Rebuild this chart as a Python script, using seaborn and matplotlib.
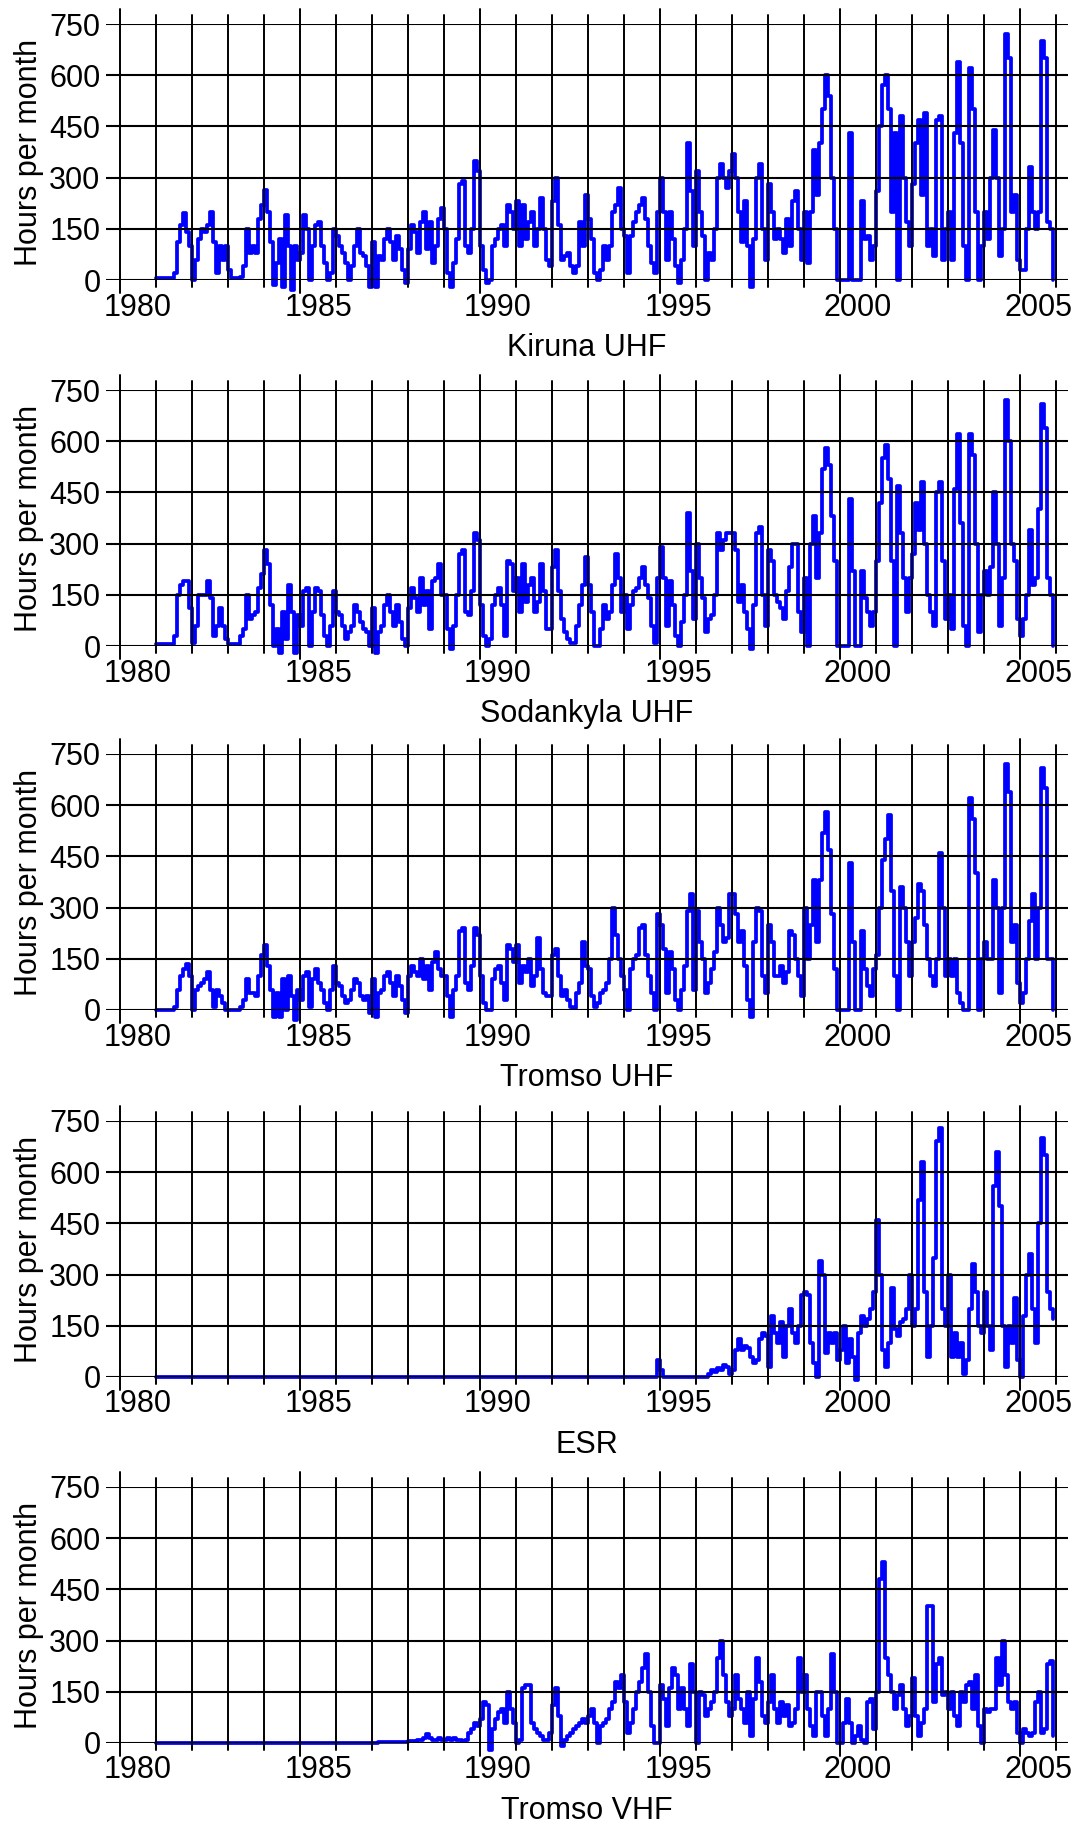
import numpy as np
import pandas as pd
import matplotlib
matplotlib.use("Agg")
import matplotlib.pyplot as plt
import seaborn as sns

sns.set_theme(style="white")
plt.rcParams["font.family"] = ["Liberation Sans", "DejaVu Sans"]

# --- data: hours per month, one row per year, Jan..Dec, 1981..2005 ---
first_year = 1981

kiruna_uhf = [
    5, 5, 5, 5, 5, 5, 20, 110, 160, 195, 140, 100,          # 1981
    0, 60, 120, 150, 140, 160, 200, 110, 20, 100, 60, 100,  # 1982
    30, 5, 5, 5, 10, 40, 150, 80, 100, 80, 180, 220,        # 1983
    265, 200, 110, -15, 50, 120, -20, 190, 100, -30, 100, 60,  # 1984
    80, 190, 150, 0, 100, 160, 170, 100, 50, 0, 20, 150,    # 1985
    130, 100, 80, 50, 0, 40, 100, 150, 80, 70, 40, -20,     # 1986
    110, -20, 70, 60, 120, 150, 110, 60, 130, 90, 30, -10,  # 1987
    90, 160, 140, 80, 170, 200, 90, 170, 50, 100, 180, 210,  # 1988
    150, 20, -20, 50, 120, 280, 290, 100, 80, 150, 350, 320,  # 1989
    100, 30, -10, 0, 100, 120, 150, 160, 100, 220, 200, 150,  # 1990
    230, 100, 220, 120, 170, 200, 100, 150, 240, 150, 60, 40,  # 1991
    230, 300, 160, 60, 70, 80, 40, 20, 40, 170, 100, 250,   # 1992
    180, 120, 20, 0, 30, 100, 60, 100, 200, 220, 270, 150,  # 1993
    130, 20, 130, 170, 200, 220, 240, 180, 100, 50, 20, 200,  # 1994
    300, 200, 60, 200, 120, 40, -10, 60, 150, 400, 260, 100,  # 1995
    320, 200, 130, 0, 80, 60, 150, 300, 340, 300, 270, 320,  # 1996
    370, 300, 200, 110, 230, 100, -20, 120, 300, 340, 150, 60,  # 1997
    280, 200, 120, 150, 120, 80, 180, 100, 230, 260, 150, 60,  # 1998
    200, 50, 200, 380, 250, 400, 500, 600, 540, 300, 150, 0,  # 1999
    0, 0, 0, 430, 0, 0, 0, 230, 120, 130, 60, 100,          # 2000
    260, 450, 570, 600, 500, 200, 430, 0, 480, 300, 170, 100,  # 2001
    280, 400, 470, 250, 490, 100, 150, 70, 470, 480, 60, 150,  # 2002
    200, 60, 430, 640, 400, 100, 0, 620, 500, 200, 0, 100,  # 2003
    200, 120, 300, 440, 300, 70, 150, 720, 650, 200, 250, 60,  # 2004
    30, 30, 150, 330, 200, 150, 200, 700, 650, 170, 150, 0,  # 2005
]

sodankyla_uhf = [
    5, 5, 5, 5, 5, 5, 30, 150, 180, 190, 190, 110,          # 1981
    10, 60, 150, 150, 150, 190, 140, 30, 60, 110, 60, 20,   # 1982
    5, 5, 5, 5, 30, 50, 150, 80, 90, 100, 170, 210,         # 1983
    280, 240, 120, 0, 50, -20, 100, 20, 180, 100, -20, 90,  # 1984
    60, 160, 170, 0, 100, 170, 160, 90, 30, 0, 60, 160,     # 1985
    100, 90, 60, 20, 40, 60, 120, 100, 70, 50, 40, 0,       # 1986
    110, -20, 40, 60, 120, 150, 100, 60, 120, 70, 20, 0,    # 1987
    110, 170, 140, 100, 200, 120, 160, 50, 190, 200, 240, 150,  # 1988
    150, 50, -10, 60, 150, 270, 280, 100, 90, 160, 330, 310,  # 1989
    120, 30, 0, 20, 120, 150, 170, 120, 30, 250, 240, 160,  # 1990
    200, 100, 240, 130, 180, 200, 100, 130, 240, 160, 50, 50,  # 1991
    230, 280, 160, 80, 40, 20, 10, 10, 60, 120, 180, 260,   # 1992
    180, 100, 0, 0, 50, 120, 80, 100, 180, 270, 200, 100,   # 1993
    150, 50, 120, 160, 170, 200, 230, 180, 140, 60, 10, 200,  # 1994
    290, 200, 60, 190, 120, 30, 0, 70, 150, 390, 220, 80,   # 1995
    300, 200, 140, 40, 80, 90, 150, 330, 280, 310, 330, 330,  # 1996
    330, 280, 130, 180, 100, 50, -10, 120, 330, 350, 150, 60,  # 1997
    280, 250, 150, 130, 110, 80, 160, 230, 300, 300, 100, 40,  # 1998
    200, 0, 300, 380, 200, 330, 520, 580, 530, 380, 250, 0,  # 1999
    0, 0, 0, 430, 220, 0, 0, 220, 140, 100, 60, 100,        # 2000
    250, 420, 550, 590, 490, 250, 0, 470, 330, 200, 100, 200,  # 2001
    270, 420, 340, 480, 300, 150, 100, 60, 450, 480, 250, 80,  # 2002
    150, 50, 460, 620, 360, 60, 0, 620, 560, 300, 40, 150,  # 2003
    220, 150, 230, 450, 300, 60, 200, 720, 600, 300, 250, 80,  # 2004
    30, 80, 150, 340, 180, 200, 400, 710, 640, 200, 150, 0,  # 2005
]

tromso_uhf = [
    0, 0, 0, 0, 0, 0, 10, 60, 100, 120, 135, 100,           # 1981
    0, 60, 70, 80, 90, 110, 60, 10, 60, 40, 20, 0,          # 1982
    0, 0, 0, 0, 10, 30, 90, 50, 50, 40, 100, 160,           # 1983
    190, 130, 60, -20, 50, -20, 90, 0, 100, 40, -30, 60,    # 1984
    30, 100, 110, 10, 90, 120, 80, 60, 20, 0, 60, 130,      # 1985
    80, 70, 40, 20, 30, 60, 90, 80, 40, 30, 40, -10,        # 1986
    90, -20, 50, 60, 100, 110, 80, 40, 100, 70, 30, -10,    # 1987
    100, 130, 110, 100, 150, 90, 130, 60, 140, 170, 120, 100,  # 1988
    100, 40, -20, 60, 100, 230, 240, 80, 60, 130, 240, 220,  # 1989
    100, 20, 0, 0, 90, 120, 130, 80, 30, 190, 180, 140,     # 1990
    190, 80, 130, 110, 150, 70, 100, 210, 120, 50, 40, 40,  # 1991
    160, 180, 100, 40, 60, 30, 10, 5, 50, 80, 200, 130,     # 1992
    120, 40, 10, 20, 50, 60, 80, 150, 300, 220, 150, 100,   # 1993
    60, 0, 120, 150, 160, 240, 250, 160, 100, 50, 0, 280,   # 1994
    250, 180, 50, 170, 120, 30, 0, 60, 130, 290, 340, 60,   # 1995
    290, 200, 150, 50, 80, 120, 170, 300, 250, 200, 210, 340,  # 1996
    340, 280, 200, 230, 130, 30, -20, 200, 300, 290, 100, 50,  # 1997
    250, 200, 100, 100, 130, 80, 110, 230, 220, 150, 100, 40,  # 1998
    300, 150, 250, 380, 200, 380, 520, 580, 470, 280, 120, 0,  # 1999
    0, 0, 0, 430, 200, 0, 0, 230, 120, 70, 40, 120,         # 2000
    160, 300, 440, 500, 570, 350, 100, 0, 360, 300, 200, 100,  # 2001
    200, 270, 370, 350, 250, 150, 100, 70, 150, 460, 300, 100,  # 2002
    150, 100, 150, 50, 20, 0, 0, 620, 560, 400, 0, 150,     # 2003
    200, 150, 150, 380, 300, 50, 300, 720, 640, 200, 250, 80,  # 2004
    20, 50, 150, 260, 340, 150, 300, 710, 650, 150, 150, 0,  # 2005
]

esr = [
    0, 0, 0, 0, 0, 0, 0, 0, 0, 0, 0, 0,    # 1981
    0, 0, 0, 0, 0, 0, 0, 0, 0, 0, 0, 0,    # 1982
    0, 0, 0, 0, 0, 0, 0, 0, 0, 0, 0, 0,    # 1983
    0, 0, 0, 0, 0, 0, 0, 0, 0, 0, 0, 0,    # 1984
    0, 0, 0, 0, 0, 0, 0, 0, 0, 0, 0, 0,    # 1985
    0, 0, 0, 0, 0, 0, 0, 0, 0, 0, 0, 0,    # 1986
    0, 0, 0, 0, 0, 0, 0, 0, 0, 0, 0, 0,    # 1987
    0, 0, 0, 0, 0, 0, 0, 0, 0, 0, 0, 0,    # 1988
    0, 0, 0, 0, 0, 0, 0, 0, 0, 0, 0, 0,    # 1989
    0, 0, 0, 0, 0, 0, 0, 0, 0, 0, 0, 0,    # 1990
    0, 0, 0, 0, 0, 0, 0, 0, 0, 0, 0, 0,    # 1991
    0, 0, 0, 0, 0, 0, 0, 0, 0, 0, 0, 0,    # 1992
    0, 0, 0, 0, 0, 0, 0, 0, 0, 0, 0, 0,    # 1993
    0, 0, 0, 0, 0, 0, 0, 0, 0, 0, 0, 50,   # 1994
    20, 0, 0, 0, 0, 0, 0, 0, 0, 0, 0, 0,   # 1995
    0, 0, 0, 0, 10, 20, 15, 25, 20, 35, 30, 10,             # 1996
    20, 80, 110, 80, 90, 85, 60, 40, 50, 110, 130, 120,     # 1997
    30, 180, 130, 100, 160, 60, 150, 200, 130, 100, 150, 240,  # 1998
    250, 240, 100, 40, 0, 340, 300, 70, 130, 100, 130, 50,  # 1999
    80, 150, 40, 110, 60, -10, 130, 180, 150, 170, 200, 250,  # 2000
    460, 300, 80, 30, 100, 260, 140, 120, 160, 170, 200, 300,  # 2001
    150, 200, 520, 630, 250, 60, 150, 350, 690, 730, 200, 150,  # 2002
    300, 60, 130, 60, 100, 10, 50, 200, 330, 250, 150, 130,  # 2003
    250, 150, 80, 560, 660, 500, 150, 30, 150, 100, 230, 50,  # 2004
    0, 180, 300, 360, 200, 100, 450, 700, 650, 250, 200, 170,  # 2005
]

tromso_vhf = [
    0, 0, 0, 0, 0, 0, 0, 0, 0, 0, 0, 0,    # 1981
    0, 0, 0, 0, 0, 0, 0, 0, 0, 0, 0, 0,    # 1982
    0, 0, 0, 0, 0, 0, 0, 0, 0, 0, 0, 0,    # 1983
    0, 0, 0, 0, 0, 0, 0, 0, 0, 0, 0, 0,    # 1984
    0, 0, 0, 0, 0, 0, 0, 0, 0, 0, 0, 0,    # 1985
    0, 0, 0, 0, 0, 0, 0, 0, 0, 0, 0, 0,    # 1986
    0, 0, 3, 3, 3, 3, 3, 3, 3, 3, 3, 3,    # 1987
    5, 5, 5, 8, 10, 15, 25, 15, 10, 10, 15, 8,              # 1988
    10, 15, 10, 15, 10, 10, 5, 10, 30, 40, 60, 50,          # 1989
    70, 120, 110, -20, 40, 70, 90, 100, 60, 150, 100, 60,   # 1990
    0, 10, 160, 170, 170, 60, 40, 30, 20, 10, 10, 30,       # 1991
    110, 160, 80, -10, 10, 20, 30, 40, 50, 60, 70, 60,      # 1992
    80, 100, 60, 0, 50, 60, 70, 100, 120, 180, 160, 200,    # 1993
    120, 30, 60, 100, 150, 180, 220, 260, 150, 50, 0, 0,    # 1994
    170, 130, 50, 160, 220, 200, 100, 160, 100, 50, 230, 150,  # 1995
    0, 150, 140, 80, 100, 120, 150, 250, 300, 200, 120, 80,  # 1996
    100, 200, 130, 100, 60, 150, 20, 130, 250, 180, 80, 60,  # 1997
    120, 200, 100, 60, 120, 80, 110, 50, 60, 100, 250, 150,  # 1998
    200, 100, 50, 20, 150, 150, 80, 20, 100, 260, 150, 0,   # 1999
    0, 60, 130, 60, 0, 20, 50, 10, 0, 120, 130, 40,         # 2000
    150, 480, 530, 250, 200, 150, 100, 140, 170, 100, 50, 80,  # 2001
    190, 80, 20, 60, 100, 400, 400, 120, 230, 250, 140, 150,  # 2002
    100, 150, 80, 50, 150, 120, 170, 180, 100, 200, 50, 0,  # 2003
    100, 90, 100, 100, 250, 170, 300, 200, 120, 100, 120, 30,  # 2004
    0, 40, 30, 20, 30, 120, 150, 30, 40, 230, 240, 20,      # 2005
]

titles = ["Kiruna UHF", "Sodankyla UHF", "Tromso UHF", "ESR", "Tromso VHF"]
series = [kiruna_uhf, sodankyla_uhf, tromso_uhf, esr, tromso_vhf]
y_ticks = [0, 150, 300, 450, 600, 750]
year_labels = [1980, 1985, 1990, 1995, 2000, 2005]

# --- layout (pixels of the 1080x1825 canvas) ---
W, H = 1080, 1825
ax_left, ax_w, ax_h = 106, 962, 256
panel_tops = [24, 390, 754, 1121, 1487]
px_per_year = 36.0

fig = plt.figure(figsize=(W / 100, H / 100), dpi=100)

for top, name, vals in zip(panel_tops, titles, series):
    df = pd.DataFrame({
        "t": first_year + np.arange(len(vals)) / 12.0,
        "hours": vals,
    })
    ax = fig.add_axes([ax_left / W, 1 - (top + ax_h) / H, ax_w / W, ax_h / H])
    sns.lineplot(data=df, x="t", y="hours", ax=ax, color="#0000ff", lw=2.7,
                 drawstyle="steps-post", estimator=None, clip_on=False, zorder=2)

    ax.set_xlim(1980 - 14 / px_per_year, 2006 + 12 / px_per_year)
    ax.set_ylim(0, 750)

    # grid drawn on top of the data, year lines stick out a little
    for v in y_ticks:
        ax.axhline(v, color="black", lw=1.5, zorder=3)
    for yr in range(1980, 2007):
        if yr % 5 == 0 and yr <= 2005:
            lo, hi = -13 / ax_h, 1 + 15 / ax_h
        else:
            lo, hi = -7 / ax_h, 1 + 9 / ax_h
        ax.axvline(yr, ymin=lo, ymax=hi, color="black", lw=1.4,
                   zorder=3, clip_on=False)

    ax.set_xticks([y + 0.5 for y in year_labels], [str(y) for y in year_labels])
    ax.set_yticks(y_ticks, [str(v) for v in y_ticks])
    ax.tick_params(length=0, labelsize=22, colors="black")
    ax.tick_params(axis="x", pad=9)
    ax.tick_params(axis="y", pad=4)
    sns.despine(ax=ax, left=True, bottom=True)
    ax.set_xlabel("")
    ax.set_ylabel("")

    ax.text(0.5, -76 / ax_h, name, transform=ax.transAxes, ha="center",
            va="baseline", fontsize=22, color="black")
    ax.text((29 - ax_left) / ax_w, 0.5, "Hours per month", rotation=90,
            transform=ax.transAxes, ha="center", va="center", fontsize=22,
            color="black")

fig.savefig("out.png", dpi=100, facecolor="white")
